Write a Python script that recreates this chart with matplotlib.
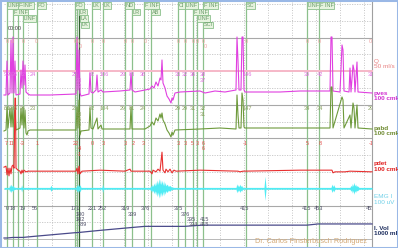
import matplotlib
matplotlib.use("Agg")
import matplotlib.pyplot as plt
from matplotlib.patches import Rectangle

plt.rcParams['font.family'] = ['Liberation Sans', 'DejaVu Sans']

W, H, DPI = 398, 248, 100
X0, X1 = 4, 372          # plot area in px
T_END = 920              # seconds shown

# ---------------- data ----------------
event_t = [7.5, 22.5, 35, 47.5, 82.5, 177.5, 182.5, 187.5, 220, 247.5, 302.5, 320, 350,
           367.5, 435, 452.5, 472.5, 482.5, 497.5, 605, 757.5, 787.5]
event_dark = [187.5]
event_lab_t = [7.5, 35, 22.5, 47.5, 82.5, 177.5, 187.5, 189, 192, 220, 247.5, 302.5, 320,
               350, 367.5, 435, 452.5, 472.5, 482.5, 497.5, 497.5, 605, 757.5, 787.5]
event_lab_txt = ["LINF", "F-INF", "F INF", "LINF", "FO", "FO", "LR", "LA", "LK", "LK", "LK",
                 "ND", "LR", "F INF", "AB", "CI", "LINF", "F INF", "LINF", "SCI", "F INF",
                 "SC", "LINF", "F INF"]
event_lab_row = [0, 0, 1, 2, 0, 0, 1, 2, 3, 0, 0, 0, 1, 0, 1, 0, 0, 1, 2, 3, 0, 0, 0, 0]

q_t = [0, 920]
q_v = [0, 0]

pves_t = [0, 5, 7.5, 10, 15, 17.5, 20, 22.5, 25, 27.5, 30, 40, 42.5, 45, 47.5, 50, 52.5, 55, 60, 65,
          115, 180, 182.5, 185, 187.5, 190, 192.5, 202.5, 212.5, 215, 217.5, 222.5, 230, 232.5, 235,
          242.5, 247.5, 290, 315, 317.5, 320, 327.5, 352.5, 365, 370, 375, 380, 385, 390, 392.5, 395,
          397.5, 402.5, 405, 407.5, 412.5, 417.5, 420, 422.5, 427.5, 440, 490, 502.5, 527.5, 552.5,
          580, 582.5, 585, 587.5, 592.5, 595, 597.5, 600, 602.5, 640, 690, 740, 815, 817.5, 820, 822.5,
          840, 845, 847.5, 850, 862.5, 865, 867.5, 872.5, 875, 877.5, 882.5, 885, 920]
pves_v = [18, 18, 120, 18, 24, 183, 24, 192, 24, 120, 18, 21, 93, 39, 120, 48, 108, 27, 21, 18,
          18, 21, 192, 33, 153, 24, 15, 18, 21, 84, 27, 24, 33, 78, 27,
          33, 27, 30, 33, 84, 33, 27, 33, 36, 45, 39, 57, 45, 69, 63, 123,
          54, 39, 27, 15, 6, -6, 9, 3, 24, 27, 30, 24, 30, 27,
          33, 192, 120, 33, 33, 192, 192, 33, 27, 27, 27, 30, 30, 192, 192, 30,
          27, 168, 153, 30, 27, 99, 27, 108, 93, 27, 117, 27, 24]

pabd_t = [0, 5, 7.5, 10, 15, 17.5, 20, 22.5, 27.5, 30, 40, 42.5, 45, 47.5, 50, 52.5, 55, 57.5, 60, 65,
          180, 182.5, 185, 187.5, 190, 192.5, 212.5, 215, 217.5, 222.5, 232.5, 235, 242.5, 245,
          315, 317.5, 320, 352.5, 365, 370, 375, 380, 385, 390, 392.5, 395, 397.5, 402.5, 407.5,
          412.5, 417.5, 420, 422.5, 427.5, 490, 540, 580, 582.5, 585, 587.5, 592.5, 595, 597.5, 600,
          602.5, 815, 817.5, 820, 822.5, 845, 847.5, 850, 865, 867.5, 872.5, 875, 877.5, 882.5, 885, 920]
pabd_v = [21, 24, 93, 30, 90, 33, 93, 33, 90, 24, 30, 90, 39, 90, 30, 84, 15, 9, 21, 24,
          24, 93, 30, 114, 9, 21, 24, 90, 30, 27, 60, 27, 39, 27,
          27, 93, 27, 27, 36, 48, 39, 60, 51, 72, 60, 75, 54, 42, 24,
          15, 3, 18, 9, 24, 27, 30, 27, 129, 69, 30, 30, 135, 114, 33,
          30, 30, 153, 153, 30, 123, 114, 30, 69, 30, 105, 90, 30, 99, 30, 27]

pdet_t = [0, 5, 7.5, 10, 12.5, 15, 17.5, 20, 22.5, 25, 27.5, 28.75, 30, 35, 40, 42.5, 45, 47.5, 50,
          55, 60, 180, 182.5, 185, 187.5, 190, 195, 240, 302.5, 315, 317.5, 365, 370, 372.5, 380,
          385, 390, 395, 397.5, 402.5, 405, 410, 415, 420, 425, 430, 490, 585, 590, 597.5, 740,
          820, 822.5, 827.5, 852.5, 865, 920]
pdet_v = [13, 16, -10, 10, -13, 10, -7, 16, 19, 10, 220, 220, 10, 4, 1, -7, 4, -4, 4,
          -1, 1, 1, 10, -7, 16, -7, 1, 4, 1, 7, 1, 1, -7, 4, -1,
          7, 1, 58, 4, -4, 7, -1, 7, -4, 4, 1, 4, 1, -1, 1, 4,
          4, -4, -1, -1, 1, -1]

emg_t = [0, 12.5, 14, 16, 18, 20, 22, 25, 30, 42.5, 44, 45.5, 47.5, 115, 117.5, 120, 180, 182.5,
         184, 186, 188, 190, 192.5, 245, 246.5, 248, 250, 365, 367, 369, 371, 373, 375, 377, 379,
         381, 383, 385, 387, 389, 391, 393, 395, 397, 399, 401, 403, 405, 408, 411, 414, 418, 425,
         580, 582, 584, 586, 588, 590, 592, 594, 596, 600, 650, 652.5, 655, 817.5, 820, 822, 824,
         827.5, 865, 867, 869, 871, 873, 875, 877, 879, 881, 883, 887.5, 920]
emg_amp = [3, 3, 12, 5, 14, 6, 10, 4, 3, 3, 12, 4, 3, 3, 10, 3, 3, 12,
           5, 15, 6, 12, 3, 3, 15, 5, 3, 3, 10, 5, 14, 6, 18, 8, 22,
           10, 28, 12, 33, 14, 30, 12, 27, 10, 25, 9, 20, 8, 14, 6, 10, 5, 3,
           3, 15, 6, 12, 5, 14, 6, 10, 4, 3, 3, 40, 3, 3, 14, 5, 12,
           3, 3, 10, 5, 16, 7, 20, 8, 14, 6, 9, 3, 3]

vol_t = [0, 7.5, 22.5, 47.5, 77.5, 177.5, 190, 220, 245, 302.5, 320, 352.5, 435, 452.5, 472.5,
         497.5, 605, 757.5, 785, 920]
vol_v = [0, 0, 18, 19, 56, 171, 182, 221, 252, 319, 339, 376, 375, 376, 395, 415, 415, 415, 453, 453]

q_lab_t = [7.5, 20, 47.5, 80, 177.5, 185, 190, 220, 247.5, 302.5, 320, 352.5, 435, 452.5, 472.5,
           482.5, 497.5, 502.5, 605, 757.5, 787.5, 915]
q_lab_txt = ["0"] * len(q_lab_t)
q_lab_lvl = [0, 0, 0, 0, 0, 0, 1, 0, 0, 0, 0, 0, 0, 0, 0, 0, 0, 1, 0, 0, 0, 0]

pves_lab_t = [1.5, 13.75, 26, 47.5, 72.5, 177.5, 187.5, 187.5, 220, 250, 297.5, 320, 347.5, 435,
              452.5, 472.5, 497.5, 497.5, 607.5, 757.5, 790, 917.5]
pves_lab_txt = ["23", "26", "26", "22", "24", "25", "33", "32", "82", "106", "29", "83", "36", "33",
                "32", "36", "38", "37", "146", "39", "42", "31"]
pves_lab_lvl = [0, 0, 0, 0, 0, 0, 1, 2, 0, 0, 0, 0, 0, 0, 0, 0, 0, 1, 0, 0, 0, 0]

pabd_lab_t = [1.5, 13.75, 26, 47.5, 72.5, 177.5, 187.5, 187.5, 187.5, 220, 250, 297.5, 320, 347.5,
              435, 452.5, 472.5, 497.5, 497.5, 607.5, 757.5, 790, 917.5]
pabd_lab_txt = ["16", "19", "16", "26", "23", "23", "33", "26", "28", "82", "104", "29", "81", "24",
                "29", "29", "31", "32", "31", "147", "34", "34", "29"]
pabd_lab_lvl = [0, 0, 0, 0, 0, 0, 1, 2, 3, 0, 0, 0, 0, 0, 0, 0, 0, 0, 1, 0, 0, 0, 0]

pdet_lab_t = [5, 20, 45, 82.5, 180, 187.5, 187.5, 220, 247.5, 302.5, 322.5, 347.5, 435, 452.5, 470,
              482.5, 497.5, 497.5, 602.5, 757.5, 790, 917.5]
pdet_lab_txt = ["7", "11", "-3", "1", "22", "4", "-1", "0", "3", "3", "2", "3", "3", "3", "5", "3",
                "6", "6", "-1", "5", "8", "-1"]
pdet_lab_lvl = [0, 0, 0, 0, 0, 1, 2, 0, 0, 0, 0, 0, 0, 0, 0, 0, 0, 1, 0, 0, 0, 0]

vol_lab_t = [7.5, 22.5, 47.5, 77.5, 177.5, 190, 190, 195, 220, 245, 302.5, 320, 352.5, 435, 452.5,
             467.5, 473, 500, 500, 602.5, 757.5, 785, 915]
vol_lab_txt = ["0", "18", "19", "56", "171", "180", "182", "189", "221", "252", "319", "339", "376",
               "375", "376", "395", "394", "415", "415", "415", "415", "453", "453"]
vol_lab_lvl = [0, 0, 0, 0, 0, 1, 2, 3, 0, 0, 0, 1, 0, 0, 1, 2, 3, 2, 3, 0, 0, 0, 0]

# ---------------- figure ----------------
fig = plt.figure(figsize=(W / DPI, H / DPI), dpi=DPI)
fig.patch.set_facecolor('white')

def full_axes(zorder):
    ax = fig.add_axes([X0 / W, 0, (X1 - X0) / W, 1], zorder=zorder)
    ax.set_xlim(0, T_END)
    ax.axis('off')
    ax.patch.set_alpha(0)
    return ax

bg = full_axes(1)
bg.set_ylim(H, 0)

# grid
for k in range(-2, 13):
    y = 37.5 + 16.8 * k
    if k in (0, 4, 6, 10):
        bg.axhline(y, color='#a8a8a8', lw=0.8)
    elif k == 12:
        bg.axhline(y, color='#b8b8b8', lw=0.7)
    else:
        bg.axhline(y, color='#c4c4c4', lw=0.6, ls=(0, (1.5, 1.5)))
for k in range(1, 16):
    bg.axvline(60 * k, color='#b4b4b4', lw=0.6, ls=(0, (1, 2)))
bg.plot([T_END, T_END], [2, 246], color='#a0a0a0', lw=0.8, clip_on=False)

# events
for t in event_t:
    c = '#2f5f2f' if t in event_dark else '#8cc08c'
    bg.plot([t, t], [2, 246], color=c, lw=0.9)

def channel(zero_px, units_per_px, z):
    ax = full_axes(z)
    ax.set_ylim((zero_px - H) * units_per_px, zero_px * units_per_px)
    return ax

axq = channel(71, 1.5, 2)
axq.plot(q_t, q_v, color='#f6b8c8', lw=1.4, clip_on=False)
axv = channel(101, 3.0, 3)
axv.plot(pves_t, pves_v, color='#e040e0', lw=0.8, clip_on=False)
axa = channel(138, 3.0, 3)
axa.plot(pabd_t, pabd_v, color='#6e9a3c', lw=0.8, clip_on=False)
axd = channel(171.5, 3.0, 3)
axd.plot(pdet_t, pdet_v, color='#e83030', lw=0.8, clip_on=False)
axe = channel(188.3, 3.33, 3)
axe.fill_between(emg_t, [-a for a in emg_amp], emg_amp, color='#50ecf4', lw=0)
axo = channel(238, 32.26, 3)
axo.plot(vol_t, vol_v, color='#4a4a8a', lw=0.9, clip_on=False)

# text overlay
fg = full_axes(5)
fg.set_ylim(H, 0)
FS = 4.0

def labels(ts, txts, lvls, y0, color):
    for t, s, l in zip(ts, txts, lvls):
        fg.text(t, y0 + 5.5 * l, s, ha='center', va='center', fontsize=FS, color=color,
                clip_on=True)

labels(q_lab_t, q_lab_txt, q_lab_lvl, 41.5, '#f0a0a0')
labels(pves_lab_t, pves_lab_txt, pves_lab_lvl, 75, '#e070e0')
labels(pabd_lab_t, pabd_lab_txt, pabd_lab_lvl, 108.5, '#8aa060')
labels(pdet_lab_t, pdet_lab_txt, pdet_lab_lvl, 143.5, '#e85050')
labels(vol_lab_t, vol_lab_txt, vol_lab_lvl, 208.5, '#505068')

rows_y = [5.5, 12, 18.5, 25]
for t, s, r in zip(event_lab_t, event_lab_txt, event_lab_row):
    fg.text(t + 1.5, rows_y[r], s, ha='left', va='center', fontsize=FS, color='#6a9a6a',
            bbox=dict(boxstyle='square,pad=0.12', fc='#e6f3de', ec='#8cc08c', lw=0.6))
fg.text(10, 29, "00:00", ha='left', va='center', fontsize=FS, color='#404040')

# right channel labels
def rlab(y, l1, l2, color, bold=False):
    fig.text(373.5 / W, 1 - y / H, l1, ha='left', va='center', fontsize=4.6, color=color,
             fontweight='bold' if bold else 'normal')
    fig.text(373.5 / W, 1 - (y + 5.3) / H, l2, ha='left', va='center', fontsize=4.6, color=color,
             fontweight='bold' if bold else 'normal')

rlab(61.7, "Q", "50 ml/s", '#e88080')
rlab(93.3, "pves", "100 cmH", '#d030d0', True)
rlab(128.5, "pabd", "100 cmH", '#6e8a30', True)
rlab(164, "pdet", "100 cmH", '#e02020', True)
rlab(196.7, "EMG I", "100 uV", '#70d0e8')
rlab(228.3, "I. Vol", "1000 ml", '#203060', True)

fig.text(311 / W, 1 - 241.5 / H, "Dr. Carlos Finsterbusch Rodriguez", ha='center', va='center',
         fontsize=5.3, color='#d4aa78')

fig.patches.append(Rectangle((0, 0), 1, 1, transform=fig.transFigure, fill=False,
                             ec='#9ab8e6', lw=2.2))

fig.savefig('out.png', dpi=DPI)
